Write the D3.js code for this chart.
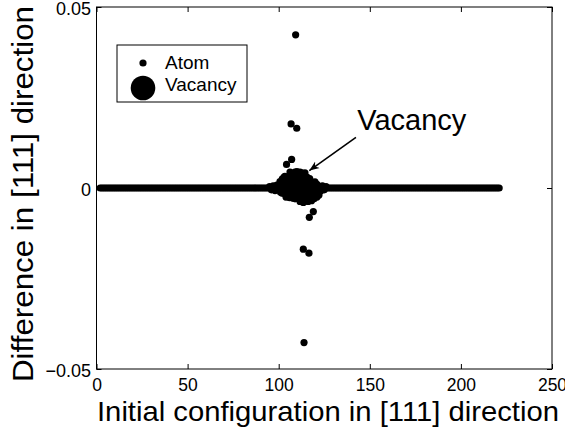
<!DOCTYPE html>
<html>
<head>
<meta charset="utf-8">
<script src="https://cdn.jsdelivr.net/npm/d3@7"></script>
<style>
  body { margin: 0; background: #fff; }
  svg text { font-family: Arial, "Liberation Sans", Helvetica, sans-serif; }
</style>
</head>
<body>
<div id="chart"></div>
<script>
// atoms that stay on the zero line (initial position along [111])
const chainX = [
  2, 3, 4, 5, 6, 7, 8, 9, 10, 11, 12, 13, 14, 15, 16, 17, 18, 19, 20, 21,
  22, 23, 24, 25, 26, 27, 28, 29, 30, 31, 32, 33, 34, 35, 36, 37, 38, 39, 40, 41,
  42, 43, 44, 45, 46, 47, 48, 49, 50, 51, 52, 53, 54, 55, 56, 57, 58, 59, 60, 61,
  62, 63, 64, 65, 66, 67, 68, 69, 70, 71, 72, 73, 74, 75, 76, 77, 78, 79, 80, 81,
  82, 83, 84, 85, 86, 87, 88, 89, 90, 91, 92, 93, 94, 95, 96, 97, 98, 99, 100, 101,
  102, 103, 104, 105, 106, 107, 108, 109, 110, 111, 112, 113, 114, 115, 116, 117, 118, 119, 120, 121,
  122, 123, 124, 125, 126, 127, 128, 129, 130, 131, 132, 133, 134, 135, 136, 137, 138, 139, 140, 141,
  142, 143, 144, 145, 146, 147, 148, 149, 150, 151, 152, 153, 154, 155, 156, 157, 158, 159, 160, 161,
  162, 163, 164, 165, 166, 167, 168, 169, 170, 171, 172, 173, 174, 175, 176, 177, 178, 179, 180, 181,
  182, 183, 184, 185, 186, 187, 188, 189, 190, 191, 192, 193, 194, 195, 196, 197, 198, 199, 200, 201,
  202, 203, 204, 205, 206, 207, 208, 209, 210, 211, 212, 213, 214, 215, 216, 217, 218, 219, 220, 221
];

// displaced atoms around the vacancy
const nearX = [
  95, 96, 97, 98, 99, 123, 124, 125, 126,
  100.7, 102, 103.4, 106.2, 107.5, 108.9, 110, 111.7, 112.5, 114.4, 115.5, 117.1, 119.9,
  103, 105, 107, 109, 111, 113, 115, 117,
  101, 103, 105, 107, 113, 115, 117, 119, 121,
  101, 103, 105, 107, 113, 115, 117, 119, 121,
  104, 106, 108, 110, 112, 114, 116, 118, 120,
  101.8, 104.5, 106.2, 109, 111.7, 113.5, 116.1, 118, 119.4, 121, 122.1,
  104.3, 107.1, 116.8, 119.0,
  106.8, 109.9, 113.5, 116.6,
  109.3, 113.9
];
const nearY = [
  0.0004, -0.0005, 0.0006, -0.0007, 0.0008, -0.0008, 0.0006, -0.0005, 0.0004,
  0.0018, 0.0025, 0.0032, 0.0044, 0.0040, 0.0044, 0.0045, 0.0044, 0.0042, 0.0042, 0.0030, 0.0022, 0.0017,
  0.0030, 0.0031, 0.0030, 0.0029, 0.0030, 0.0031, 0.0028, 0.0026,
  0.0012, 0.0015, 0.0016, 0.0015, 0.0016, 0.0015, 0.0014, 0.0012, 0.0010,
  -0.0012, -0.0015, -0.0016, -0.0015, -0.0016, -0.0017, -0.0016, -0.0015, -0.0012,
  -0.0025, -0.0027, -0.0028, -0.0029, -0.0030, -0.0029, -0.0028, -0.0027, -0.0024,
  -0.0014, -0.0018, -0.0023, -0.0030, -0.0037, -0.0040, -0.0037, -0.0035, -0.0030, -0.0025, -0.0019,
  0.0065, 0.0079, -0.0081, -0.0065,
  0.0177, 0.0165, -0.0169, -0.0180,
  0.0423, -0.0427
];

const vacancyX = [110.5];
const vacancyY = [-0.0003];

const xTicks = [0, 50, 100, 150, 200, 250];
const yTicks = [-0.05, 0, 0.05];

// "Vacancy" arrow annotation, in data units
const noteText = "Vacancy";
const noteAt = [143.1, 0.0161];
const arrowFrom = [142.4, 0.0140];
const arrowTo = [116.8, 0.0048];

const W = 565, H = 430;
const plotL = 96.5, plotR = 552, plotT = 7, plotB = 369;
const rAtom = 3.6, rVac = 12.3;

const svg = d3.select('#chart').append('svg')
    .attr('width', W)
    .attr('height', H);

const x = d3.scaleLinear().domain([0, 250]).range([plotL, plotR]);
const y = d3.scaleLinear().domain([-0.05, 0.05]).range([plotB, plotT]);

// axes, ticks pointing inward
const fmtY = d => d === 0 ? '0' : d3.format('.2f')(d);

svg.append('g')
    .attr('transform', `translate(0,${plotB})`)
    .call(d3.axisBottom(x).tickValues(xTicks).tickSizeInner(-5).tickSizeOuter(0).tickPadding(10))
    .call(g => g.select('.domain').remove())
    .call(g => g.selectAll('text').attr('font-size', 17.5).attr('fill', '#000'));

svg.append('g')
    .attr('transform', `translate(0,${plotT})`)
    .call(d3.axisTop(x).tickValues(xTicks).tickSizeInner(-5).tickSizeOuter(0).tickFormat(''))
    .call(g => g.select('.domain').remove());

svg.append('g')
    .attr('transform', `translate(${plotL},0)`)
    .call(d3.axisLeft(y).tickValues(yTicks).tickSizeInner(-5).tickSizeOuter(0).tickPadding(5.5).tickFormat(fmtY))
    .call(g => g.select('.domain').remove())
    .call(g => g.selectAll('text').attr('font-size', 18).attr('fill', '#000').attr('dy', '0.42em'));

svg.append('g')
    .attr('transform', `translate(${plotR},0)`)
    .call(d3.axisRight(y).tickValues(yTicks).tickSizeInner(-5).tickSizeOuter(0).tickFormat(''))
    .call(g => g.select('.domain').remove());

svg.selectAll('.tick line').attr('stroke', '#000');

// plot box
svg.append('rect')
    .attr('x', plotL).attr('y', plotT)
    .attr('width', plotR - plotL).attr('height', plotB - plotT)
    .attr('fill', 'none').attr('stroke', '#000').attr('stroke-width', 1);

// atoms
const dots = svg.append('g').attr('fill', '#000');

dots.selectAll('circle.chain')
  .data(chainX)
  .enter().append('circle')
    .attr('class', 'chain')
    .attr('cx', d => x(d))
    .attr('cy', y(0))
    .attr('r', rAtom);

dots.selectAll('circle.near')
  .data(nearX.map((d, i) => [d, nearY[i]]))
  .enter().append('circle')
    .attr('class', 'near')
    .attr('cx', d => x(d[0]))
    .attr('cy', d => y(d[1]))
    .attr('r', rAtom);

dots.selectAll('circle.vac')
  .data(vacancyX.map((d, i) => [d, vacancyY[i]]))
  .enter().append('circle')
    .attr('class', 'vac')
    .attr('cx', d => x(d[0]))
    .attr('cy', d => y(d[1]))
    .attr('r', rVac);

// annotation
svg.append('defs').append('marker')
    .attr('id', 'head')
    .attr('viewBox', '0 0 10 10')
    .attr('refX', 10).attr('refY', 5)
    .attr('markerWidth', 10).attr('markerHeight', 10)
    .attr('markerUnits', 'userSpaceOnUse')
    .attr('orient', 'auto')
  .append('path')
    .attr('d', 'M0,1 L10,5 L0,9 L3,5 Z')
    .attr('fill', '#000');

svg.append('line')
    .attr('x1', x(arrowFrom[0])).attr('y1', y(arrowFrom[1]))
    .attr('x2', x(arrowTo[0])).attr('y2', y(arrowTo[1]))
    .attr('stroke', '#000').attr('stroke-width', 1.6)
    .attr('marker-end', 'url(#head)');

svg.append('text')
    .attr('x', x(noteAt[0])).attr('y', y(noteAt[1]))
    .attr('font-size', 29)
    .text(noteText);

// legend
const lg = svg.append('g').attr('transform', 'translate(117,45)');
lg.append('rect')
    .attr('width', 130).attr('height', 57)
    .attr('fill', '#fff').attr('stroke', '#000').attr('stroke-width', 1);
lg.append('circle').attr('cx', 26).attr('cy', 18).attr('r', rAtom);
lg.append('circle').attr('cx', 26).attr('cy', 43).attr('r', rVac);
lg.append('text').attr('x', 48).attr('y', 24).attr('font-size', 19).text('Atom');
lg.append('text').attr('x', 48).attr('y', 46).attr('font-size', 19).text('Vacancy');

// axis titles
svg.append('text')
    .attr('x', 328).attr('y', 421)
    .attr('text-anchor', 'middle')
    .attr('font-size', 28)
    .attr('textLength', 462)
    .attr('lengthAdjust', 'spacingAndGlyphs')
    .text('Initial configuration in [111] direction');

svg.append('text')
    .attr('transform', 'translate(33,194) rotate(-90)')
    .attr('text-anchor', 'middle')
    .attr('font-size', 29)
    .attr('textLength', 376)
    .attr('lengthAdjust', 'spacingAndGlyphs')
    .text('Difference in [111] direction');
</script>
</body>
</html>
